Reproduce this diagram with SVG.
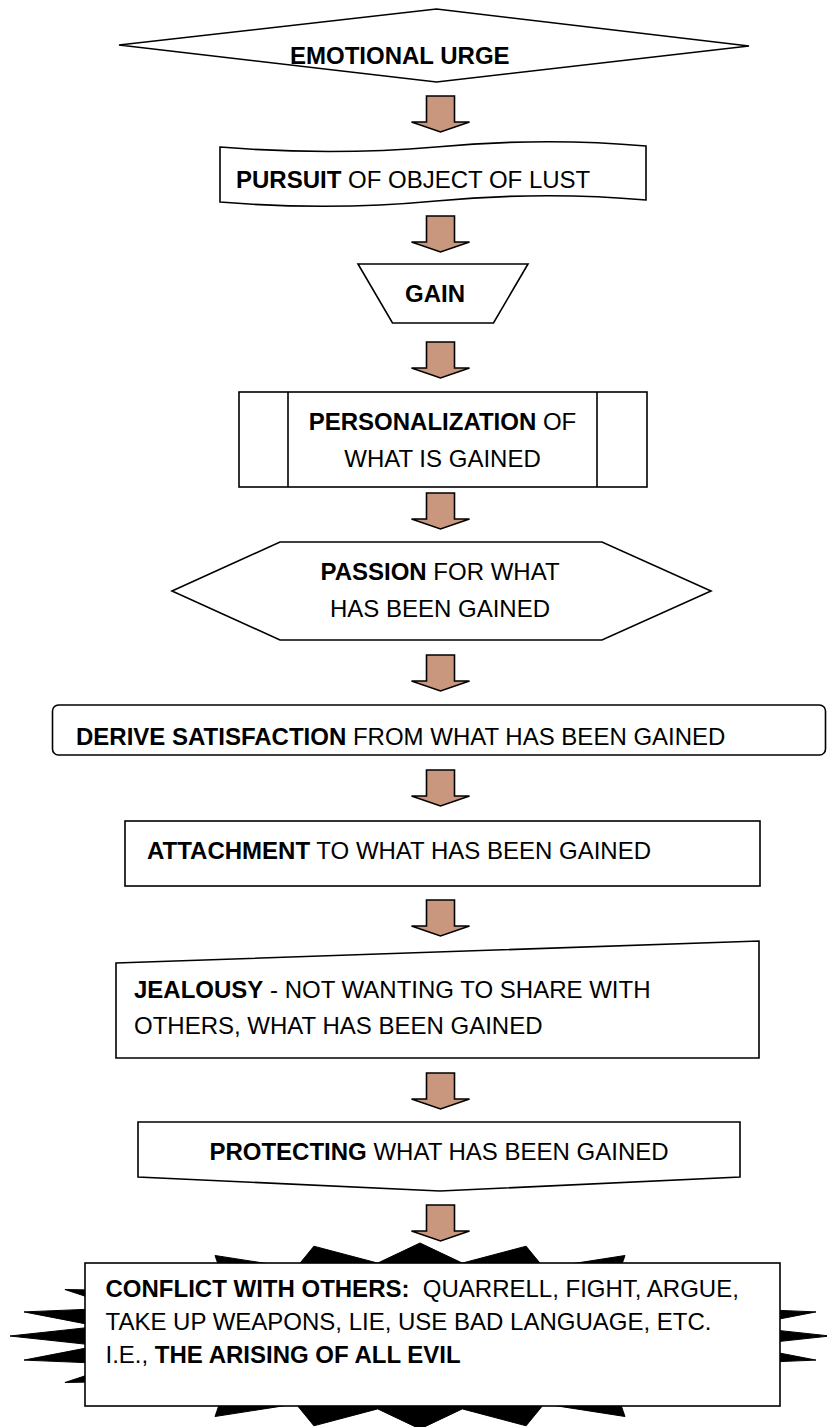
<svg xmlns="http://www.w3.org/2000/svg" xmlns:xlink="http://www.w3.org/1999/xlink" width="827" height="1427" viewBox="0 0 827 1427">
<style>
.n{fill:#fff;stroke:#000;stroke-width:1.6;stroke-linejoin:miter}
.t{font-family:"Liberation Sans",Arial,sans-serif;font-size:24px;fill:#000}
.b{font-weight:bold}
.arr{fill:#c9977d;stroke:#000;stroke-width:1.6;stroke-linejoin:miter}
</style>
<defs>
<path id="arrow" class="arr" d="M-14,0 H14 V26 H29 L0,36 L-29,26 H-14 Z"/>
</defs>
<rect width="827" height="1427" fill="#fff"/>

<g id="connectors">
<use xlink:href="#arrow" href="#arrow" x="440.5" y="96"/>
<use xlink:href="#arrow" href="#arrow" x="440.5" y="216"/>
<use xlink:href="#arrow" href="#arrow" x="440.5" y="342"/>
<use xlink:href="#arrow" href="#arrow" x="440.5" y="493"/>
<use xlink:href="#arrow" href="#arrow" x="440.5" y="655"/>
<use xlink:href="#arrow" href="#arrow" x="440.5" y="770"/>
<use xlink:href="#arrow" href="#arrow" x="440.5" y="900"/>
<use xlink:href="#arrow" href="#arrow" x="440.5" y="1073"/>
<use xlink:href="#arrow" href="#arrow" x="440.5" y="1205"/>
</g>

<g id="n1-emotional-urge">
<polygon class="n" points="119,45 436.5,9 749,46 436.5,82"/>
<text class="t b" x="290" y="64">EMOTIONAL URGE</text>
</g>

<g id="n2-pursuit">
<path class="n" d="M220,147 Q330,156 436,147 Q544,137 646,146 L646,200 Q544,191 436,201 Q330,211 220,202 Z"/>
<text class="t" x="236" y="188"><tspan class="b">PURSUIT</tspan> OF OBJECT OF LUST</text>
</g>

<g id="n3-gain">
<polygon class="n" points="358,264 528,264 493.5,323 392.5,323"/>
<text class="t b" x="405" y="302">GAIN</text>
</g>

<g id="n4-personalization">
<rect class="n" x="239" y="392" width="408" height="95"/>
<line class="n" x1="288" y1="392" x2="288" y2="487"/>
<line class="n" x1="597" y1="392" x2="597" y2="487"/>
<text class="t" x="442.5" y="430" text-anchor="middle"><tspan class="b">PERSONALIZATION</tspan> OF</text>
<text class="t" x="442.5" y="467" text-anchor="middle">WHAT IS GAINED</text>
</g>

<g id="n5-passion">
<polygon class="n" points="172,591 280,542 602,542 711,591 602,640 280,640"/>
<text class="t" x="440" y="580" text-anchor="middle"><tspan class="b">PASSION</tspan> FOR WHAT</text>
<text class="t" x="440" y="617" text-anchor="middle">HAS BEEN GAINED</text>
</g>

<g id="n6-derive">
<rect class="n" x="52.5" y="705" width="773" height="50" rx="6" ry="6"/>
<text class="t" x="76" y="745"><tspan class="b">DERIVE SATISFACTION</tspan> FROM WHAT HAS BEEN GAINED</text>
</g>

<g id="n7-attachment">
<rect class="n" x="125" y="821" width="635" height="65"/>
<text class="t" x="147" y="859"><tspan class="b">ATTACHMENT</tspan> TO WHAT HAS BEEN GAINED</text>
</g>

<g id="n8-jealousy">
<polygon class="n" points="116,963 759,941 759,1058 116,1058"/>
<text class="t" x="134" y="998"><tspan class="b">JEALOUSY</tspan> - NOT WANTING TO SHARE WITH</text>
<text class="t" x="134" y="1034">OTHERS, WHAT HAS BEEN GAINED</text>
</g>

<g id="n9-protecting">
<polygon class="n" points="138,1122 740,1122 740,1177 440,1191 138,1177"/>
<text class="t" x="439" y="1160" text-anchor="middle"><tspan class="b">PROTECTING</tspan> WHAT HAS BEEN GAINED</text>
</g>

<g id="n10-conflict">
<polygon fill="#000" stroke="#000" stroke-width="1" points="830,1336 741.2,1345.6 816,1360.1 719.3,1364.1 775.1,1382.5 677,1380.7 709.9,1401.8 617.2,1394.3 625,1416.5 544,1403.9 526.1,1425.8 462.3,1408.9 420,1429 377.7,1408.9 313.9,1425.8 296,1403.9 215,1416.5 222.8,1394.3 130.1,1401.8 163,1380.7 64.9,1382.5 120.7,1364.1 24,1360.1 98.8,1345.6 10,1336 98.8,1326.4 24,1311.9 120.7,1307.9 64.9,1289.5 163,1291.3 130.1,1270.2 222.8,1277.7 215,1255.5 296,1268.1 313.9,1246.2 377.7,1263.1 420,1243 462.3,1263.1 526.1,1246.2 544,1268.1 625,1255.5 617.2,1277.7 709.9,1270.2 677,1291.3 775.1,1289.5 719.3,1307.9 816,1311.9 741.2,1326.4"/>
<rect class="n" x="85" y="1263" width="695" height="143"/>
<text class="t" x="105.5" y="1297" style="white-space:pre"><tspan class="b">CONFLICT WITH OTHERS:</tspan>  QUARRELL, FIGHT, ARGUE,</text>
<text class="t" x="105.5" y="1330">TAKE UP WEAPONS, LIE, USE BAD LANGUAGE, ETC.</text>
<text class="t" x="105.5" y="1363">I.E., <tspan class="b">THE ARISING OF ALL EVIL</tspan></text>
</g>
</svg>
